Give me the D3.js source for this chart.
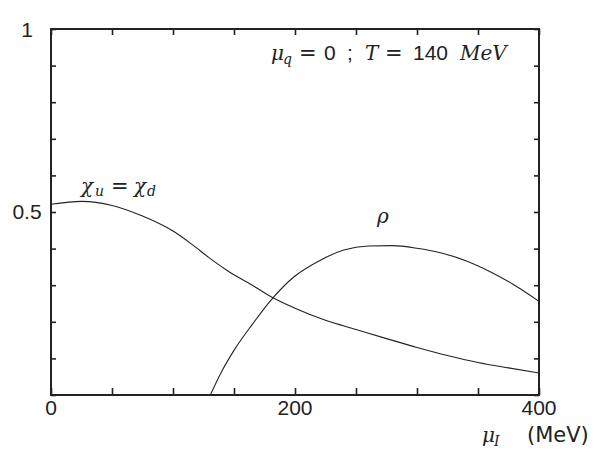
<!DOCTYPE html>
<html>
<head>
<meta charset="utf-8">
<script src="https://cdn.jsdelivr.net/npm/d3@7"></script>
<style>
  body { margin: 0; background: #fff; }
  .num { font-family: "Liberation Sans", Arial, sans-serif; font-size: 21px; fill: #222; }
  .eq { font-family: "DejaVu Sans", sans-serif; font-size: 21px; fill: #222; }
  .math { font-family: "DejaVu Serif", "Liberation Serif", serif; font-size: 20px; font-style: italic; fill: #222; }
  .sub { font-family: "DejaVu Serif", "Liberation Serif", serif; font-size: 14px; font-style: italic; fill: #222; }
</style>
</head>
<body>
<div id="chart"></div>
<script>
// chi_u = chi_d curve
const chiMu  = [0, 25, 50, 75, 100, 115, 130, 145, 165, 180, 200, 225, 250, 275, 300, 325, 350, 375, 400];
const chiVal = [0.521, 0.529, 0.518, 0.489, 0.448, 0.413, 0.374, 0.339, 0.300, 0.269, 0.237, 0.204, 0.179, 0.154, 0.130, 0.108, 0.089, 0.074, 0.060];
// rho curve
const rhoMu  = [130.6, 140, 150, 165, 180, 200, 220, 240, 260, 280, 300, 320, 340, 360, 380, 400];
const rhoVal = [0, 0.065, 0.122, 0.193, 0.258, 0.325, 0.367, 0.396, 0.407, 0.408, 0.401, 0.388, 0.367, 0.337, 0.300, 0.256];

const xTicks = [0, 200, 400];
const yTicks = [0.5, 1];

const width = 599, height = 460;
const margin = {top: 29, right: 60, bottom: 65, left: 51};
const innerW = width - margin.left - margin.right;
const innerH = height - margin.top - margin.bottom;

let svg = d3.select("#chart").append("svg")
  .attr("width", width)
  .attr("height", height);

let x = d3.scaleLinear().domain([0, 400]).range([margin.left, margin.left + innerW]);
let y = d3.scaleLinear().domain([0, 1]).range([margin.top + innerH, margin.top]);

// minor ticks, all pointing inward
let xTickVals = d3.range(0, 401, 50);
let yTickVals = d3.range(0, 1.001, 0.1);

svg.append("g")
  .attr("transform", "translate(0," + y(0) + ")")
  .call(d3.axisBottom(x).tickValues(xTickVals).tickSize(-7).tickFormat(""))
  .call(g => g.select(".domain").remove());
svg.append("g")
  .attr("transform", "translate(0," + y(1) + ")")
  .call(d3.axisTop(x).tickValues(xTickVals).tickSize(-6).tickFormat(""))
  .call(g => g.select(".domain").remove());
svg.append("g")
  .attr("transform", "translate(" + x(0) + ",0)")
  .call(d3.axisLeft(y).tickValues(yTickVals).tickSize(-5).tickFormat(""))
  .call(g => g.select(".domain").remove());
svg.append("g")
  .attr("transform", "translate(" + x(400) + ",0)")
  .call(d3.axisRight(y).tickValues(yTickVals).tickSize(-5).tickFormat(""))
  .call(g => g.select(".domain").remove());
svg.selectAll(".tick line").attr("stroke", "#222").attr("stroke-width", 1.6);

// frame
svg.append("rect")
  .attr("x", x(0)).attr("y", y(1))
  .attr("width", x(400) - x(0)).attr("height", y(0) - y(1))
  .attr("fill", "none").attr("stroke", "#222").attr("stroke-width", 2);

// tick labels
svg.selectAll(".xlab").data(xTicks).enter().append("text")
  .attr("class", "num")
  .attr("x", d => x(d)).attr("y", y(0) + 20)
  .attr("text-anchor", "middle")
  .text(d => d);
svg.selectAll(".ylab").data(yTicks).enter().append("text")
  .attr("class", "num")
  .attr("x", 27).attr("y", d => y(d) + (d === 1 ? 8 : 7))
  .attr("text-anchor", "middle")
  .text(d => d);

// curves
svg.append("clipPath").attr("id", "clip").append("rect")
  .attr("x", x(0)).attr("y", y(1))
  .attr("width", x(400) - x(0)).attr("height", y(0) - y(1));

let line = d3.line()
  .x(d => x(d[0]))
  .y(d => y(d[1]))
  .curve(d3.curveMonotoneX);

let chiData = chiMu.map((m, i) => [m, chiVal[i]]);
let rhoData = rhoMu.map((m, i) => [m, rhoVal[i]]);

[chiData, rhoData].forEach(data => {
  svg.append("path")
    .datum(data)
    .attr("clip-path", "url(#clip)")
    .attr("d", line)
    .attr("fill", "none")
    .attr("stroke", "#222")
    .attr("stroke-width", 1.1);
});

// formula pieces: [text, class, x, baseline offset]
function formula(pieces, baseY) {
  let g = svg.append("g");
  pieces.forEach(p => {
    g.append("text").attr("class", p[1]).attr("x", p[2]).attr("y", baseY + p[3]).text(p[0]);
  });
}

formula([
  ["μ", "math", 271, 0], ["q", "sub", 283, 4],
  ["=", "eq", 299, 0], ["0", "num", 324, 0], [";", "num", 347, 0],
  ["T", "math", 365, 0], ["=", "eq", 385, 0], ["140", "num", 413, 0],
  ["MeV", "math", 460, 0]
], 60);

formula([
  ["χ", "math", 81, 0], ["u", "sub", 95, 3],
  ["=", "eq", 111, 0],
  ["χ", "math", 134, 0], ["d", "sub", 147, 3]
], 193);

formula([["ρ", "math", 377, 0]], 223);

formula([["μ", "math", 482, 0], ["I", "sub", 494, 4]], 442);
svg.append("text").attr("class", "eq")
  .attr("font-size", 20)
  .attr("x", 527).attr("y", 442).text("(MeV)");
</script>
</body>
</html>
